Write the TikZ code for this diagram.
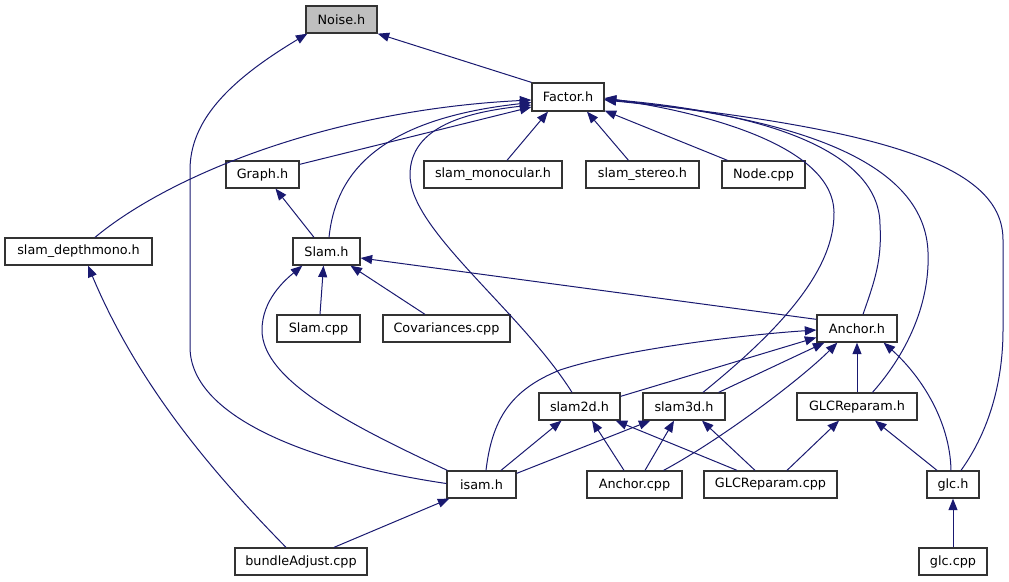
\documentclass[tikz,border=0pt]{standalone}
\usepackage{fontspec}
\setmainfont{DejaVu Sans}
\usetikzlibrary{arrows.meta}
\definecolor{edgecol}{HTML}{191970}
\begin{document}
\begin{tikzpicture}[x=1pt,y=-1pt,
  box/.style={draw=black!80, line width=1.3pt, fill=white, inner sep=0pt,
    minimum height=27pt, font=\fontsize{12.8}{14}\selectfont, text=black},
  dep/.style={draw=edgecol, line width=1pt, -{Triangle[length=11.5pt,width=9pt]}}]
\useasboundingbox (0,0) rectangle (1009,581);
% nodes
\node[box, fill=black!25, minimum width=71pt] (noise) at (341.5,19.5) {Noise.h};
\node[box, minimum width=72pt, minimum height=28pt] (factor) at (568,97) {Factor.h};
\node[box, minimum width=73pt] (graph) at (262.5,174.5) {Graph.h};
\node[box, minimum width=138pt] (mono) at (493,174.5) {slam\_monocular.h};
\node[box, minimum width=113pt] (stereo) at (642.5,174.5) {slam\_stereo.h};
\node[box, minimum width=83pt] (nodecpp) at (763.5,174.5) {Node.cpp};
\node[box, minimum width=147pt] (depth) at (78.5,251.5) {slam\_depthmono.h};
\node[box, minimum width=67pt] (slamh) at (326.5,251.5) {Slam.h};
\node[box, minimum width=83pt] (slamcpp) at (318.5,328.5) {Slam.cpp};
\node[box, minimum width=127pt] (cov) at (446.5,328.5) {Covariances.cpp};
\node[box, minimum width=80pt] (anchorh) at (857,328.5) {Anchor.h};
\node[box, minimum width=81pt] (slam2d) at (579.5,406.5) {slam2d.h};
\node[box, minimum width=82pt] (slam3d) at (684,406.5) {slam3d.h};
\node[box, minimum width=120pt] (glcrh) at (857,406.5) {GLCReparam.h};
\node[box, minimum width=69pt] (isam) at (481.5,484.5) {isam.h};
\node[box, minimum width=95pt] (anchorcpp) at (634.5,484.5) {Anchor.cpp};
\node[box, minimum width=133pt] (glcrcpp) at (770.5,484.5) {GLCReparam.cpp};
\node[box, minimum width=52pt] (glch) at (953,484.5) {glc.h};
\node[box, minimum width=132pt] (bundle) at (301,561.5) {bundleAdjust.cpp};
\node[box, minimum width=68pt] (glccpp) at (953,561.5) {glc.cpp};
% edges to Noise.h
\draw[dep] (factor.north west) -- (noise.south east);
\draw[dep] ([yshift=1pt]isam.west) .. controls (320,465) and (190,420) .. (190,347)
  -- (190,170) .. controls (190,120) and (230,80) .. ([xshift=2pt]noise.south west);
% edges to Factor.h
\draw[dep] ([xshift=16.5pt]depth.north) .. controls (170,175) and (330,110) .. ([yshift=-3pt]factor.west);
\draw[dep] ([yshift=-4pt]graph.north east) -- ([yshift=-10pt]factor.west);
\draw[dep] ([xshift=2.5pt]slamh.north) .. controls (335,180) and (370,120) .. ([yshift=-5.5pt]factor.west);
\draw[dep] ([xshift=-7.5pt]slam2d.north) .. controls (520,310) and (410,230) .. (410,175)
  .. controls (410,125) and (470,112) .. ([yshift=-8pt]factor.west);
\draw[dep] ([xshift=14pt]mono.north) -- ([xshift=-20pt]factor.south);
\draw[dep] ([xshift=-14pt]stereo.north) -- ([xshift=19pt]factor.south);
\draw[dep] ([xshift=-36pt]nodecpp.north) -- ([yshift=1pt]factor.south east);
\draw[dep] ([xshift=19pt]slam3d.north) .. controls (780,330) and (835,270) .. (834,212)
  .. controls (833,150) and (720,115) .. ([yshift=-1pt]factor.east);
\draw[dep] ([xshift=6pt]anchorh.north) .. controls (875,280) and (882,260) .. (880,225)
  .. controls (880,160) and (790,115) .. ([yshift=-2pt]factor.east);
\draw[dep] ([xshift=15.5pt]glcrh.north) .. controls (910,350) and (930,300) .. (928,252)
  .. controls (925,170) and (820,120) .. ([yshift=-2.5pt]factor.east);
\draw[dep] ([xshift=8pt]glch.north) .. controls (990,430) and (1003,380) .. (1003,330)
  -- (1003,240) .. controls (1003,170) and (900,130) .. ([yshift=-3pt]factor.east);
% edges to Graph.h / Slam.h
\draw[dep] ([xshift=-12.5pt]slamh.north) -- ([xshift=13pt]graph.south);
\draw[dep] ([xshift=1.5pt]slamcpp.north) -- ([xshift=-3pt]slamh.south);
\draw[dep] ([xshift=-21.5pt]cov.north) -- ([xshift=24pt]slamh.south);
\draw[dep] ([xshift=1pt]isam.north west) .. controls (350,425) and (262,380) .. (262,330)
  .. controls (262,300) and (285,280) .. ([xshift=10pt]slamh.south west);
\draw[dep] ([yshift=-5pt]anchorh.north west) -- ([yshift=-6.5pt]slamh.east);
% edges to slam_depthmono.h / isam.h
\draw[dep] ([xshift=-15pt]bundle.north) .. controls (220,480) and (140,390) .. ([xshift=9.5pt]depth.south);
\draw[dep] ([xshift=33pt]bundle.north) -- ([xshift=3pt]isam.south west);
% edges to Anchor.h
\draw[dep] ([xshift=4.5pt]isam.north) .. controls (492,420) and (510,390) .. (560,370)
  .. controls (620,350) and (740,335) .. ([yshift=-1.5pt]anchorh.west);
\draw[dep] ([yshift=-4pt]slam2d.north east) -- ([yshift=-9pt]anchorh.west);
\draw[dep] ([xshift=-7pt]slam3d.north east) -- ([xshift=8pt]anchorh.south west);
\draw[dep] ([xshift=-19pt]anchorcpp.north east) .. controls (720,440) and (800,380) .. ([xshift=21pt]anchorh.south west);
\draw[dep] (glcrh.north) -- (anchorh.south);
\draw[dep] ([xshift=-2pt]glch.north) .. controls (950,420) and (920,375) .. ([xshift=-14pt]anchorh.south east);
% edges to slam2d.h / slam3d.h / GLCReparam.h / glc.h
\draw[dep] ([xshift=19.5pt]isam.north) -- ([xshift=-18pt]slam2d.south);
\draw[dep] ([yshift=-3pt]isam.north east) -- ([xshift=8pt]slam3d.south west);
\draw[dep] ([xshift=-10.5pt]anchorcpp.north) -- ([xshift=12.5pt]slam2d.south);
\draw[dep] ([xshift=10.5pt]anchorcpp.north) -- ([xshift=-10pt]slam3d.south);
\draw[dep] ([xshift=-33.5pt]glcrcpp.north) -- ([xshift=-5pt]slam2d.south east);
\draw[dep] ([xshift=-15.5pt]glcrcpp.north) -- ([xshift=18pt]slam3d.south);
\draw[dep] ([xshift=16.5pt]glcrcpp.north) -- ([xshift=-18pt]glcrh.south);
\draw[dep] ([xshift=-16pt]glch.north) -- ([xshift=18pt]glcrh.south);
\draw[dep] (glccpp.north) -- (glch.south);
\end{tikzpicture}
\end{document}
